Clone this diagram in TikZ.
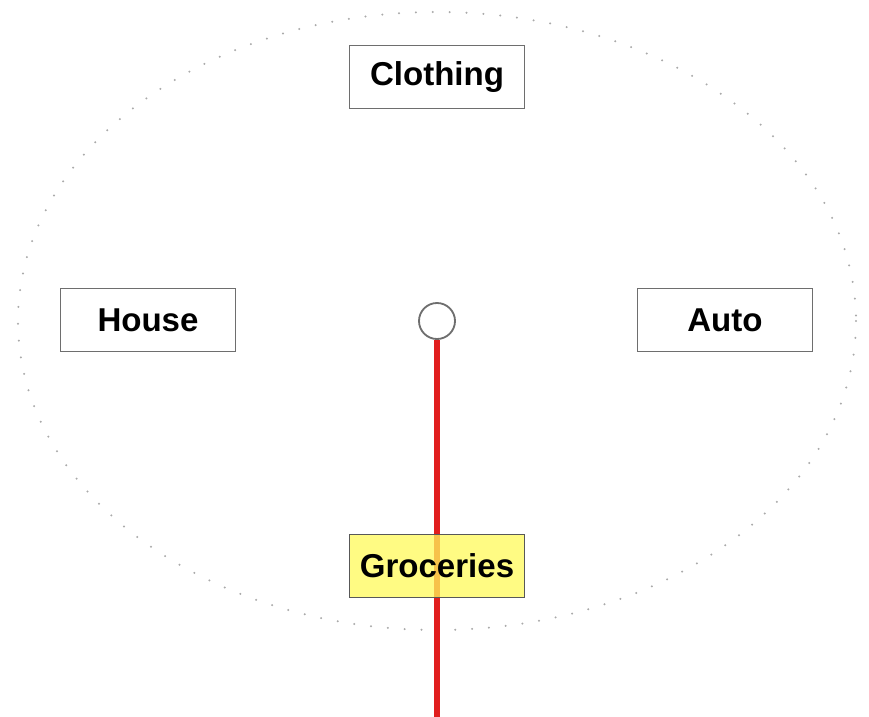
\documentclass[tikz,border=0pt]{standalone}
\usepackage{fontspec}
\setmainfont{Liberation Sans}
\usepackage{tikz}
\usetikzlibrary{positioning}
\definecolor{boxline}{RGB}{110,110,110}
\definecolor{dotgray}{RGB}{170,170,170}
\definecolor{grocfill}{RGB}{255,250,90}
\definecolor{hubred}{RGB}{225,30,30}

\begin{document}
\begin{tikzpicture}[
    x=0.025cm, y=-0.025cm,
    cat/.style={draw=boxline, line width=1.3pt, fill=white, minimum width=4.375cm, minimum height=1.575cm, font=\fontsize{23.5}{28}\selectfont\bfseries, inner sep=0pt},
    hot/.style={cat, fill=grocfill, fill opacity=0.75, text opacity=1, draw=boxline!80!black},
    orbit/.style={dotgray, line width=1.6pt, line cap=round, dash pattern=on 0pt off 12pt},
    hubstyle/.style={circle, draw=boxline, line width=1.3pt, fill=white, minimum size=0.9cm, inner sep=0pt},
    spoke/.style={hubred, line width=3.6pt}
]
    \useasboundingbox (0,0) rectangle (869,717);

    % dotted ring round the choices
    \draw[orbit] (437,321) ellipse [x radius=419, y radius=309];

    \node[cat] (clothing) at (437,77) {Clothing};
    \node[cat] (house) at (148,320) {House};
    \node[cat] (auto) at (725,320) {Auto};

    \node[hubstyle] (hub) at (437,321) {};
    \coordinate (bottom) at (437,717);
    \draw[spoke] (hub.south) -- (bottom);

    % picked one sits over the pointer
    \node[hot] (groceries) at (437,566) {Groceries};
\end{tikzpicture}
\end{document}
